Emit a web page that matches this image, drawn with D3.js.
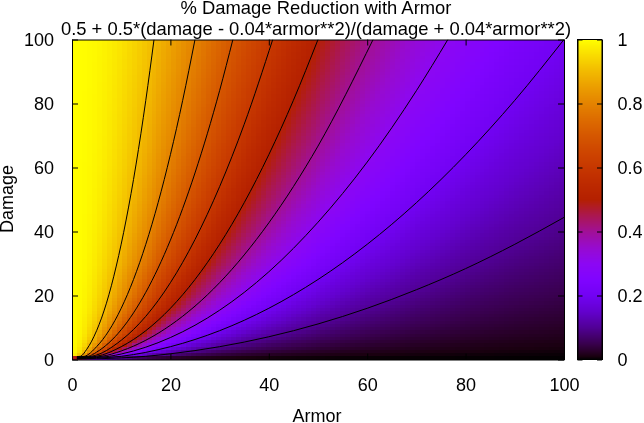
<!DOCTYPE html>
<html>
<head>
<meta charset="utf-8">
<script src="https://cdnjs.cloudflare.com/ajax/libs/d3/7.8.5/d3.min.js"></script>
<style>
  body { margin: 0; background: #fff; }
  #wrap { position: relative; width: 644px; height: 423px; overflow: hidden; }
  canvas, svg { position: absolute; left: 0; top: 0; }
  text { font-family: "Liberation Sans", sans-serif; font-size: 18px; fill: #000; }
  .title { font-size: 18.4px; }
  .domain, .tick line { stroke: #000; stroke-width: 1px; }
</style>
</head>
<body>
<div id="wrap">
  <canvas id="map" width="644" height="423"></canvas>
  <svg id="chart" width="644" height="423"></svg>
</div>
<script>
// sample positions of the value table below
var armorGrid = [0, 2, 4, 6, 8, 10, 13, 16, 20, 25, 30, 35, 40, 45, 50, 55, 60, 70, 80, 90, 100];
var damageGrid = [0, 1, 2, 3, 5, 7, 10, 15, 20, 30, 40, 50, 60, 70, 80, 90, 100];

// one row per damage value, one column per armor value
var reduction = [
  [0, 0, 0, 0, 0, 0, 0, 0, 0, 0, 0, 0, 0, 0, 0, 0, 0, 0, 0, 0, 0],
  [1, .862, .610, .410, .281, .200, .129, .089, .059, .038, .027, .020, .015, .012, .010, .008, .007, .005, .004, .003, .002],
  [1, .926, .758, .581, .439, .333, .228, .163, .111, .074, .053, .039, .030, .024, .020, .016, .014, .010, .008, .006, .005],
  [1, .949, .824, .676, .540, .429, .307, .227, .158, .107, .077, .058, .045, .036, .029, .024, .020, .015, .012, .009, .007],
  [1, .969, .887, .776, .661, .556, .425, .328, .238, .167, .122, .093, .072, .058, .048, .040, .034, .025, .019, .015, .012],
  [1, .978, .916, .829, .732, .636, .509, .406, .304, .219, .163, .125, .099, .080, .065, .055, .046, .034, .027, .021, .017],
  [1, .984, .940, .874, .796, .714, .597, .494, .385, .286, .217, .169, .135, .110, .091, .076, .065, .049, .038, .030, .024],
  [1, .989, .959, .912, .854, .789, .689, .594, .484, .375, .294, .234, .190, .156, .130, .110, .094, .071, .055, .044, .036],
  [1, .992, .969, .933, .887, .833, .747, .661, .556, .444, .357, .290, .238, .198, .167, .142, .122, .093, .072, .058, .048],
  [1, .995, .979, .954, .921, .882, .816, .746, .652, .545, .455, .380, .319, .270, .231, .199, .172, .133, .105, .085, .070],
  [1, .996, .984, .965, .940, .909, .855, .796, .714, .615, .526, .449, .385, .331, .286, .248, .217, .169, .135, .110, .091],
  [1, .997, .987, .972, .951, .926, .881, .830, .758, .667, .581, .505, .439, .382, .333, .292, .258, .203, .163, .134, .111],
  [1, .997, .989, .977, .959, .938, .899, .854, .789, .706, .625, .550, .484, .426, .375, .331, .294, .234, .190, .156, .130],
  [1, .998, .991, .980, .965, .946, .912, .872, .814, .737, .660, .588, .522, .464, .412, .366, .327, .263, .215, .178, .149],
  [1, .998, .992, .982, .969, .952, .922, .887, .833, .762, .690, .620, .556, .497, .444, .398, .357, .290, .238, .198, .167],
  [1, .998, .993, .984, .972, .957, .930, .898, .849, .783, .714, .647, .584, .526, .474, .427, .385, .315, .260, .217, .184],
  [1, .998, .994, .986, .975, .962, .937, .907, .862, .800, .735, .671, .610, .552, .500, .452, .410, .338, .281, .236, .200]
];

// contour lines, [armor, damage]
var contours = [
  [[1, .1], [5, .2], [10, .5], [15, 1], [20, 1.78], [30, 4], [40, 7.1], [50, 11.1], [60, 16], [70, 21.8], [80, 28.4], [90, 36], [100, 44.4]],
  [[1, .2], [5, .4], [10, 1], [20, 4], [30, 9], [40, 16], [50, 25], [60, 36], [70, 49], [80, 64], [90, 81], [100, 100]],
  [[1, .3], [5, .6], [7.6, 1], [10, 1.71], [20, 6.86], [30, 15.4], [40, 27.4], [50, 42.9], [60, 61.7], [70, 84], [76.4, 100]],
  [[1, .4], [5, .8], [6.1, 1], [10, 2.67], [20, 10.7], [30, 24], [40, 42.7], [50, 66.7], [61.2, 100]],
  [[1, .5], [5, 1], [10, 4], [15, 9], [20, 16], [30, 36], [40, 64], [45, 81], [50, 100]],
  [[1, .6], [4, 1], [10, 6], [15, 13.5], [20, 24], [25, 37.5], [30, 54], [35, 73.5], [40.8, 100]],
  [[1, .7], [3.3, 1], [5, 2.3], [10, 9.3], [15, 21], [20, 37.3], [25, 58.3], [30, 84], [32.7, 100]],
  [[1, .8], [2.5, 1], [5, 4], [7.5, 9], [10, 16], [12.5, 25], [15, 36], [17.5, 49], [20, 64], [22.5, 81], [25, 100]],
  [[1, .9], [1.7, 1], [3, 3.2], [5, 9], [7, 17.6], [9, 29.2], [11, 43.6], [13, 60.8], [15, 81], [16.67, 100]]
];

var axisTicks = [0, 20, 40, 60, 80, 100];
var barTicks = [0, .2, .4, .6, .8, 1];

// colours
var paletteStops = [0, .01, .025, .05, .1, .15, .2, .25, .3, .35, .4, .45, .5, .55, .6, .65, .7, .75, .8, .85, .9, .95, 1];
var paletteColors = ["#000000", "#1a0010", "#280028", "#39004f", "#510096", "#6301ce", "#7202f3", "#8004ff", "#8c07f3", "#970bce",
  "#a11096", "#ab174f", "#b42000", "#bd2a00", "#c63700", "#ce4600", "#d55700", "#dd6c00", "#e48300", "#eb9d00", "#f2ba00", "#f9db00", "#ffff00"];

var left = 72, right = 564, top_ = 39.5, bottom = 359.5;
var barLeft = 577.5, barRight = 602;

var x = d3.scaleLinear().domain([0, 100]).range([left, right]);
var y = d3.scaleLinear().domain([0, 100]).range([bottom, top_]);
var barY = d3.scaleLinear().domain([0, 1]).range([bottom, top_]);
var color = d3.scaleLinear().domain(paletteStops).range(paletteColors);

var armorIndex = d3.scaleLinear().domain(armorGrid).range(armorGrid.map(function(d, i) { return i; }));
var damageIndex = d3.scaleLinear().domain(damageGrid).range(damageGrid.map(function(d, i) { return i; }));

// read the table at an armor/damage position
function lookup(a, d) {
  var u = armorIndex(a), v = damageIndex(d);
  var i = Math.min(Math.floor(u), armorGrid.length - 2), j = Math.min(Math.floor(v), damageGrid.length - 2);
  var lo = d3.interpolateNumber(reduction[j][i], reduction[j][i + 1])(u - i);
  var hi = d3.interpolateNumber(reduction[j + 1][i], reduction[j + 1][i + 1])(u - i);
  return d3.interpolateNumber(lo, hi)(v - j);
}

var ctx = document.getElementById("map").getContext("2d");
var step = 100 / 99;

// surface, drawn in small blocks like the original
d3.range(0, 99).forEach(function(i) {
  d3.range(0, 99).forEach(function(j) {
    var x0 = Math.round(x(i * step)), x1 = Math.round(x((i + 1) * step));
    var y1 = Math.round(y(j * step)), y0 = Math.round(y((j + 1) * step));
    ctx.fillStyle = color(lookup((i + .5) * step, (j + .5) * step));
    ctx.fillRect(x0, y0, x1 - x0, y1 - y0);
  });
});

// colour bar
d3.range(Math.floor(top_), Math.ceil(bottom)).forEach(function(py) {
  ctx.fillStyle = color(Math.max(0, Math.min(1, barY.invert(py + .5))));
  ctx.fillRect(barLeft, py, barRight - barLeft, 1);
});

var svg = d3.select("#chart");

svg.append("clipPath").attr("id", "plot").append("rect")
  .attr("x", left).attr("y", top_).attr("width", right - left).attr("height", bottom - top_);

var line = d3.line()
  .x(function(d) { return x(d[0]); })
  .y(function(d) { return y(d[1]); })
  .curve(d3.curveMonotoneX);

svg.append("g").attr("clip-path", "url(#plot)").selectAll("path")
  .data(contours).enter().append("path")
  .attr("d", line)
  .attr("fill", "none")
  .attr("stroke", "#000")
  .attr("stroke-width", 1);

// axes, ticks point inward on all four sides
function frame(axis, tx, ty, labels) {
  var g = svg.append("g").attr("transform", "translate(" + tx + "," + ty + ")").call(axis);
  g.attr("font-family", null).attr("font-size", null);
  if (!labels) g.selectAll("text").remove();
  return g;
}

frame(d3.axisBottom(x).tickValues(axisTicks).tickSizeOuter(0).tickSizeInner(-6).tickPadding(19), 0, bottom, true);
frame(d3.axisTop(x).tickValues(axisTicks).tickSizeOuter(0).tickSizeInner(-6), 0, top_, false);
frame(d3.axisLeft(y).tickValues(axisTicks).tickSizeOuter(0).tickSizeInner(-6).tickPadding(18), left, 0, true);
frame(d3.axisRight(y).tickValues(axisTicks).tickSizeOuter(0).tickSizeInner(-6), right, 0, false);

frame(d3.axisLeft(barY).tickValues(barTicks).tickSizeOuter(0).tickSizeInner(-5), barLeft, 0, false);
frame(d3.axisRight(barY).tickValues(barTicks).tickFormat(d3.format("")).tickSizeOuter(0).tickSizeInner(-5).tickPadding(15.5), barRight, 0, true);
svg.append("rect")
  .attr("x", barLeft).attr("y", top_).attr("width", barRight - barLeft).attr("height", bottom - top_)
  .attr("fill", "none").attr("stroke", "#000");

// titles and axis names
svg.append("text").attr("class", "title").attr("x", 316).attr("y", 14).attr("text-anchor", "middle").text("% Damage Reduction with Armor");
svg.append("text").attr("class", "title").attr("x", 316).attr("y", 35).attr("text-anchor", "middle").text("0.5 + 0.5*(damage - 0.04*armor**2)/(damage + 0.04*armor**2)");
svg.append("text").attr("x", 317).attr("y", 422).attr("text-anchor", "middle").text("Armor");
svg.append("text").attr("transform", "translate(13,199) rotate(-90)").attr("text-anchor", "middle").text("Damage");
</script>
</body>
</html>
